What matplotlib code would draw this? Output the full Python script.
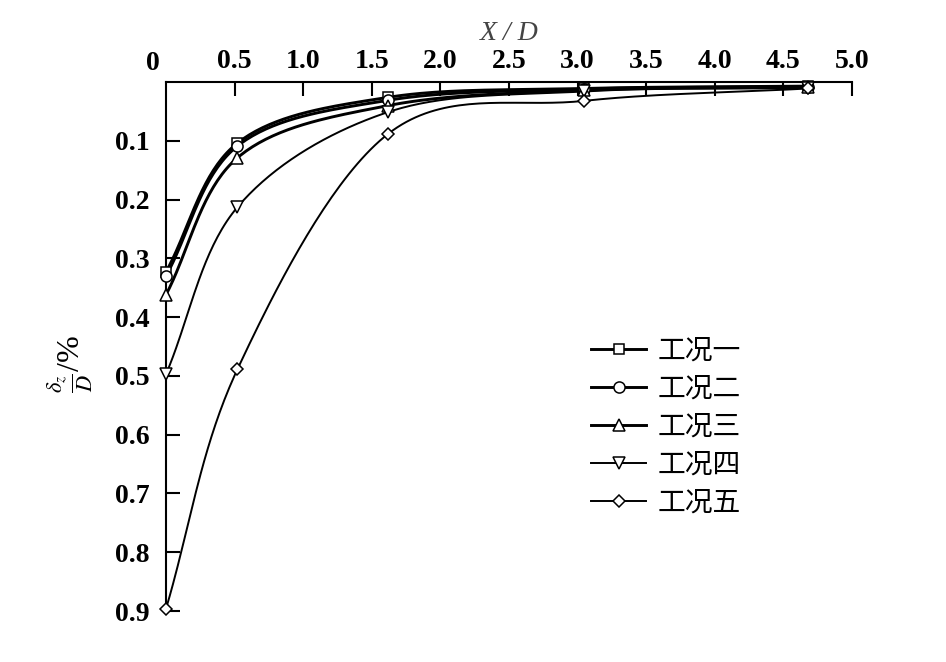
import matplotlib
matplotlib.use('Agg')
import matplotlib.pyplot as plt
import numpy as np

# ---------------------------------------------------------------------------
# Data
# ---------------------------------------------------------------------------
x_d = [0.0, 0.52, 1.62, 3.05, 4.68]

case_1 = [0.323, 0.104, 0.026, 0.011, 0.007]
case_2 = [0.330, 0.109, 0.031, 0.012, 0.008]
case_3 = [0.362, 0.129, 0.040, 0.014, 0.009]
case_4 = [0.497, 0.213, 0.051, 0.016, 0.010]
case_5 = [0.896, 0.489, 0.088, 0.032, 0.011]

labels = ['工况一', '工况二', '工况三', '工况四', '工况五']
markers = ['s', 'o', '^', 'v', 'D']
widths = [2.1, 2.1, 2.1, 1.4, 1.4]
msizes = [7.5, 8, 8.5, 8.5, 6.5]

x_ticks = [0.5, 1.0, 1.5, 2.0, 2.5, 3.0, 3.5, 4.0, 4.5, 5.0]
y_ticks = [0.1, 0.2, 0.3, 0.4, 0.5, 0.6, 0.7, 0.8, 0.9]

plt.rcParams['font.family'] = 'Liberation Serif'
plt.rcParams['mathtext.fontset'] = 'stix'
CJK = ['Noto Sans CJK SC', 'DejaVu Sans']


def catmull_rom(xs, ys, n=40):
    """Smoothed line through the points (like a spreadsheet 'smooth line')."""
    p = np.column_stack([xs, ys]).astype(float)
    p = np.vstack([2 * p[0] - p[1], p, 2 * p[-1] - p[-2]])
    out = []
    t = np.linspace(0, 1, n)[:, None]
    for i in range(1, len(p) - 2):
        p0, p1, p2, p3 = p[i - 1], p[i], p[i + 1], p[i + 2]
        seg = 0.5 * ((2 * p1) + (-p0 + p2) * t
                     + (2 * p0 - 5 * p1 + 4 * p2 - p3) * t ** 2
                     + (-p0 + 3 * p1 - 3 * p2 + p3) * t ** 3)
        out.append(seg if i == 1 else seg[1:])
    out = np.vstack(out)
    return out[:, 0], out[:, 1]


fig = plt.figure(figsize=(9.46, 6.62), dpi=100)
ax = fig.add_axes([0.1755, 0.077, 0.7251, 0.7991])

series = [case_1, case_2, case_3, case_4, case_5]
for vals, lab, mk, lw, ms in zip(series, labels, markers, widths, msizes):
    sx, sy = catmull_rom(x_d, vals)
    ax.plot(sx, sy, color='black', lw=lw, clip_on=False, zorder=2)
    ax.plot(x_d, vals, linestyle='none', marker=mk, ms=ms, mfc='white',
            mec='black', mew=1.1, clip_on=False, zorder=3)
    # legend proxy
    ax.plot([], [], color='black', lw=lw, marker=mk, ms=ms, mfc='white',
            mec='black', mew=1.1, label=lab)

ax.set_xlim(0, 5.0)
ax.set_ylim(0.9, 0)
ax.xaxis.tick_top()
ax.xaxis.set_label_position('top')
ax.set_xticks(x_ticks)
ax.set_xticklabels([f'{v:.1f}' for v in x_ticks], fontweight='bold')
ax.set_yticks(y_ticks)
ax.set_yticklabels([f'{v:.1f}' for v in y_ticks], fontweight='bold')
ax.tick_params(axis='both', direction='in', length=10, width=1.5,
               labelsize=20, pad=12)
ax.tick_params(axis='x', pad=6)

for side in ('right', 'bottom'):
    ax.spines[side].set_visible(False)
for side in ('left', 'top'):
    ax.spines[side].set_linewidth(1.5)

ax.text(-0.019, 1.012, '0', transform=ax.transAxes, ha='center', va='bottom',
        fontsize=20, fontweight='bold')

ax.set_xlabel('X / D', fontsize=20, style='italic', color='#444444')
ax.xaxis.set_label_coords(0.5, 1.08)
fig.text(0.075, 0.45, r'$\frac{\delta_z}{D}$/%', rotation=90, fontsize=23,
         ha='center', va='center')

ax.legend(loc='upper left', bbox_to_anchor=(0.603, 0.542), frameon=False,
          prop={'family': CJK, 'size': 20}, handlelength=2.0,
          handletextpad=0.4, labelspacing=0.29, borderaxespad=0)

fig.savefig('out.png', dpi=100)
